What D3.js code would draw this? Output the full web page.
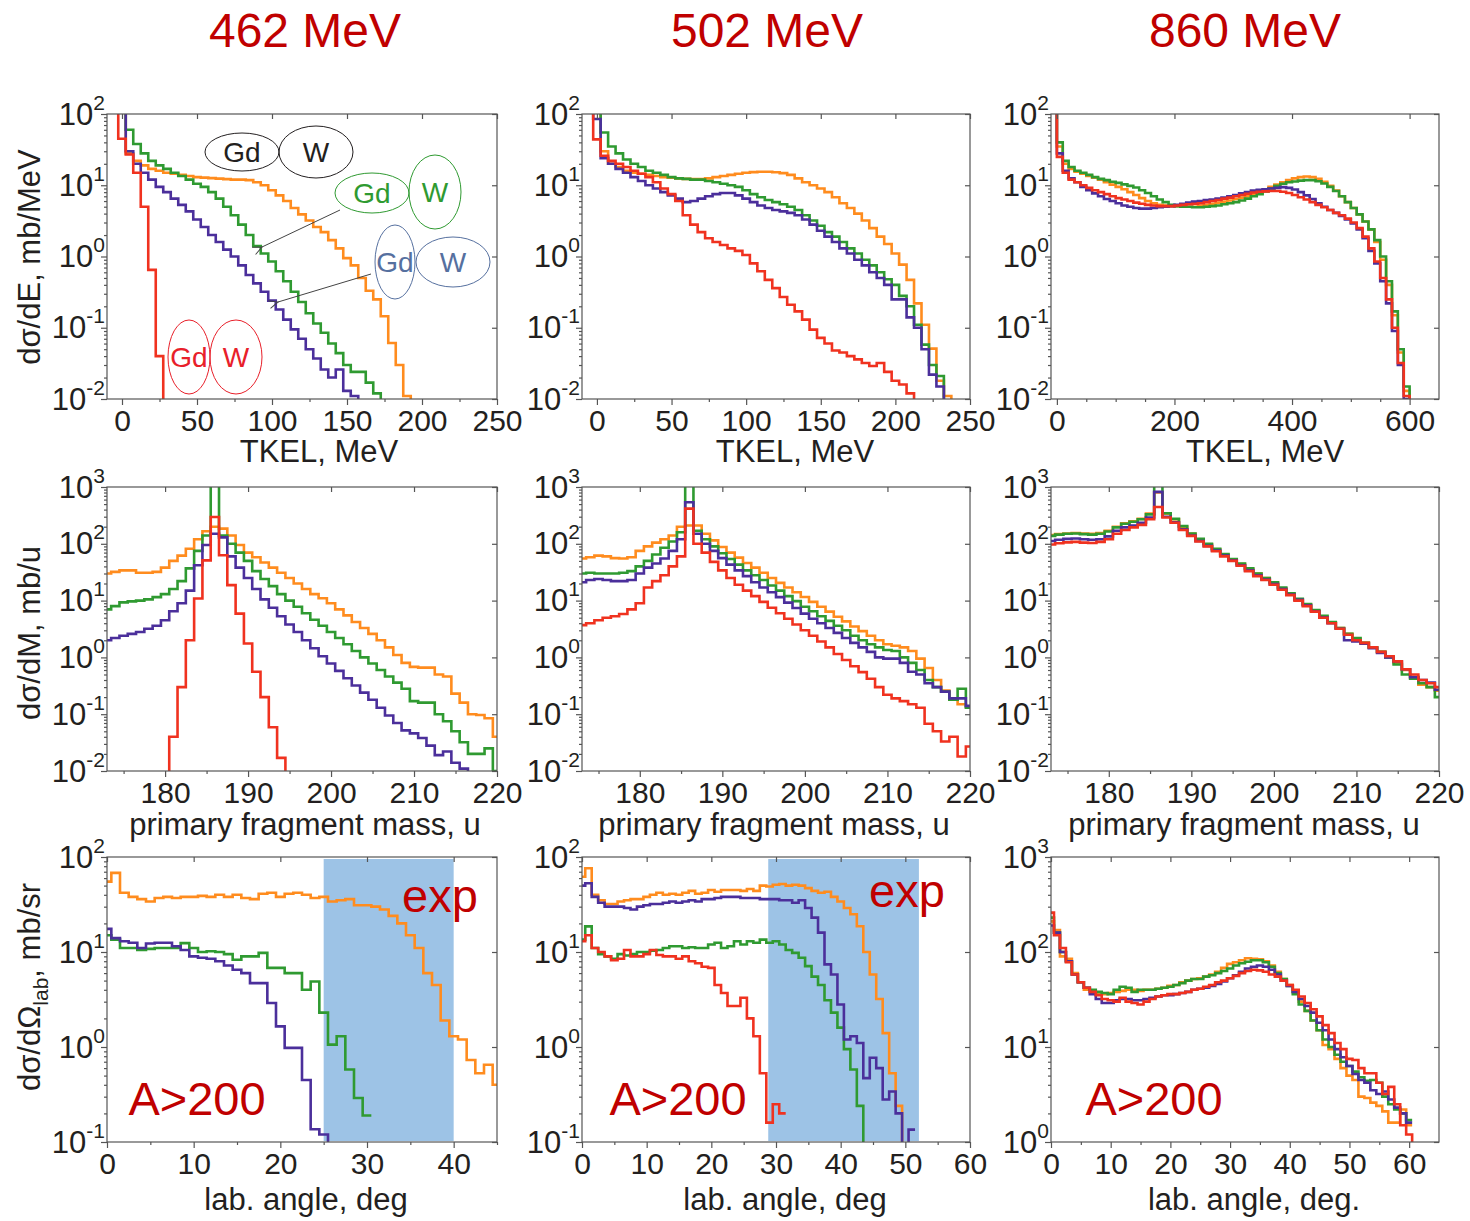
<!DOCTYPE html>
<meta charset="utf-8">
<style>
  body { margin: 0; background: #fff; }
  svg text { font-family: Arial, "Liberation Sans", Helvetica, sans-serif; fill: #231f20; }
  .frame { fill: none; stroke: #555; stroke-width: 1.2px; }
  .axis line { stroke: #555; stroke-width: 1.2px; }
  .axis path { stroke: none; }
  .trace { fill: none; stroke-width: 2.6px; stroke-linejoin: miter; }
  .title { font-size: 48px; fill: #c00000 !important; text-anchor: middle; }
  .note { fill: #c00000 !important; }
</style>
<script src="https://cdn.jsdelivr.net/npm/d3@7"></script>
<svg id="chart" width="1470" height="1221"></svg>
<script>
// ---------- data: row 1, TKEL spectra (bins of 5 MeV, first bin starts at -7.5) ----------
var tkel462_orange = [300,300,28,22,19,17,16,15,14.5,14,13.5,13,12.8,12.6,12.4,12.2,12,12,11.8,11,10,8.5,7.2,6,4.8,3.9,3.2,2.6,2.2,1.7,1.3,0.95,0.75,0.5,0.33,0.25,0.145,0.061,0.03,0.011,0.0001];
var tkel462_green  = [300,300,60,38,28,22,19,17,15,13.5,12,10.5,9.5,8,6.5,5,3.8,2.8,2.0,1.4,1.1,0.85,0.62,0.45,0.32,0.23,0.16,0.115,0.085,0.06,0.044,0.03,0.024,0.024,0.017,0.012,0.0001];
var tkel462_purple = [300,300,30,20,15,12,9.5,8,6.5,5.3,4.3,3.3,2.6,2.0,1.6,1.25,1.0,0.75,0.55,0.42,0.32,0.24,0.18,0.13,0.095,0.07,0.05,0.037,0.026,0.02,0.026,0.013,0.011,0.0001];
var tkel462_red    = [300,45,27,15,5,0.65,0.04,0.0001];

var tkel502_orange = [300,300,30,20,18,16,15,14.5,14,13.5,13,12.8,12.5,12.3,12.2,12.2,12.5,13,13.5,14,14.5,15,15.3,15.5,15.5,15.2,14.8,14,12.5,11,10,9,8,6.8,5.6,4.8,4.0,3.2,2.5,1.9,1.5,1.1,0.77,0.47,0.22,0.11,0.051,0.018,0.011,0.0001];
var tkel502_green  = [300,300,55,35,28,23,20,18,16,15,14,13,12.5,12.3,12,12,11.5,11,10.5,10,9.5,8.5,7.5,6.8,6.2,5.8,5.4,5.0,4.5,3.8,3.2,2.7,2.2,1.9,1.6,1.3,1.1,0.9,0.75,0.6,0.48,0.4,0.28,0.2,0.11,0.058,0.03,0.021,0.0001];
var tkel502_purple = [300,85,24,20,17,15,13,11.5,10,9,8,7.2,6.5,5.8,6.0,6.5,7,7.5,7.8,7.8,7.2,6.5,5.8,5.2,4.8,4.5,4.3,4.1,3.8,3.3,2.8,2.3,1.9,1.6,1.3,1.1,0.9,0.75,0.6,0.5,0.4,0.25,0.25,0.14,0.1,0.05,0.022,0.015,0.0001];
var tkel502_red    = [300,44,26,22,20,18,16,14.5,13,11,9,7.5,6,3.8,2.8,2.2,1.8,1.6,1.45,1.3,1.2,1.05,0.8,0.62,0.47,0.36,0.27,0.21,0.17,0.13,0.094,0.072,0.06,0.048,0.045,0.04,0.036,0.032,0.029,0.032,0.024,0.018,0.016,0.012,0.0001];

// 860 MeV: bins of 10 MeV, first bin starts at -10
var tkel860_orange = [500,35,20,17,15.5,14.5,13.5,12.8,12,11,10.2,9.5,8.8,8.0,7.3,6.6,6.0,5.6,5.3,5.2,5.1,5.1,5.1,5.0,5.0,5.2,5.3,5.5,5.7,5.9,6.1,6.4,6.7,7.0,7.5,8.0,8.7,9.5,10.2,11,11.8,12.5,13,13.3,13,12.3,11.2,9.8,8.4,7.0,5.8,4.8,3.9,3.1,2.4,1.6,0.9,0.4,0.15,0.045,0.013,0.0005];
var tkel860_green  = [500,40,22,18,16,15,14,13,12.3,11.8,11.2,10.8,10.3,9.8,9.3,8.5,7.8,7,6.3,5.8,5.3,5.1,5.0,5.0,4.9,4.9,5.0,5.1,5.2,5.4,5.6,5.8,6.1,6.5,7,7.5,8.2,9,9.8,10.5,11,11.3,11.6,11.8,11.8,11.4,10.6,9.5,8.3,7.0,5.8,4.8,3.9,3.1,2.4,1.7,1.0,0.45,0.17,0.05,0.015,0.0005];
var tkel860_purple = [500,28,16,12.5,11,9.5,8.5,7.7,7,6.4,6,5.6,5.2,5,4.8,4.7,4.7,4.8,4.9,5.0,5.1,5.3,5.5,5.7,5.9,6.0,6.2,6.3,6.5,6.7,7.0,7.3,7.7,8.0,8.4,8.6,8.8,9,9.2,9.4,9.2,8.7,8.0,7.2,6.4,5.6,5.0,4.5,4.1,3.7,3.3,2.9,2.4,1.8,1.2,0.8,0.45,0.22,0.09,0.03,0.01,0.0005];
var tkel860_red    = [500,25,15,12,11,10,9.2,8.5,8,7.5,7,6.6,6.3,6.0,5.7,5.5,5.3,5.2,5.1,5.1,5.1,5.2,5.3,5.4,5.5,5.6,5.8,6,6.2,6.5,6.7,7,7.3,7.6,7.9,8.1,8.2,8.3,8.3,8.1,7.8,7.3,6.8,6.3,5.8,5.3,4.9,4.5,4.1,3.8,3.4,3.0,2.5,1.9,1.3,0.85,0.5,0.25,0.1,0.032,0.011,0.0005];

// ---------- data: row 2, primary fragment mass (1 u bins, centres 173..220) ----------
var mass462_orange = [30,32,34,34,31,31,32,38,50,62,82,120,166,200,185,140,95,70,58,47,38,31,25,20,16,13,11,9,7,5.5,4.2,3.3,2.6,2.0,1.5,1.1,0.8,0.68,0.66,0.66,0.5,0.46,0.23,0.16,0.1,0.097,0.085,0.04];
var mass462_green  = [7,8,9.3,9.7,10,10.5,11.5,13,16,22,37,75,140,5000,140,100,70,50,33,24,18,13,10,7.8,6,4.6,3.6,2.8,2.2,1.7,1.3,1.0,0.78,0.6,0.46,0.36,0.28,0.17,0.16,0.16,0.1,0.075,0.05,0.032,0.02,0.02,0.025,0.01];
var mass462_purple = [2.0,2.2,2.4,2.6,2.8,3.2,3.6,4.5,6.5,9,15,42,95,150,130,60,38,25,16,10.5,7.5,5.3,3.8,2.8,2.0,1.45,1.05,0.78,0.58,0.43,0.32,0.24,0.18,0.13,0.095,0.07,0.052,0.046,0.038,0.028,0.019,0.022,0.014,0.011,0.00001];
var mass462_red    = [0.00001,0.00001,0.00001,0.00001,0.00001,0.00001,0.00001,0.00001,0.04,0.30,2.0,10.9,51,297,63,18.7,5.9,1.76,0.56,0.2,0.059,0.017,0.00001];

var mass502_orange = [55,58,62,60,56,55,58,75,90,105,120,140,200,210,210,150,115,88,70,57,46,38,31,25,20.5,17,14,11.6,9.5,7.8,6.4,5.2,4.3,3.5,2.9,2.4,2.0,1.7,1.6,1.5,1.3,0.95,0.65,0.4,0.26,0.18,0.15,0.135];
var mass502_green  = [30,31,30,30,30,31,33,40,50,65,85,110,160,5000,170,120,90,68,54,43,34,28,23,18.5,15,12,9.8,7.8,6.5,5.3,4.4,3.6,3.0,2.4,2.0,1.7,1.5,1.35,1.3,1.0,0.8,0.6,0.4,0.3,0.25,0.18,0.28,0.13];
var mass502_purple = [21,23,24,23,22,22,23,30,38,45,55,75,120,540,150,100,75,56,43,34,27,21,17,14,11.5,9.2,7.4,5.9,4.8,4.0,3.3,2.7,2.2,1.8,1.5,1.25,1.0,0.95,0.95,0.8,0.56,0.5,0.35,0.3,0.25,0.19,0.19,0.14];
var mass502_red    = [3.7,4.0,4.5,5.0,5.3,5.8,7,9,17,22,28,40,60,416,100,70,48,34,25,19,15,12,9.5,7.5,6,4.8,3.8,3.0,2.4,1.9,1.5,1.15,0.9,0.7,0.55,0.42,0.3,0.22,0.19,0.17,0.15,0.13,0.068,0.05,0.033,0.04,0.018,0.027];

var mass860_orange = [142,148,152,155,152,150,155,170,200,230,250,275,340,800,340,270,200,150,120,98,80,65,53,44,36,30,25,20.5,16.5,13,10.5,8.5,6.6,5.2,4.1,3.3,2.6,2.1,1.8,1.5,1.25,1.05,0.8,0.6,0.45,0.33,0.3,0.26];
var mass860_green  = [138,145,150,152,148,145,150,165,195,225,245,270,330,5000,345,275,205,152,122,100,82,66,54,45,37,30,25,21,17,13.5,10.8,8.7,6.8,5.4,4.2,3.3,2.6,2.2,1.8,1.5,1.25,1.0,0.75,0.5,0.42,0.35,0.3,0.2];
var mass860_purple = [112,118,122,124,120,118,120,135,170,195,210,235,290,820,300,240,180,140,112,92,76,62,51,42,34,28,23.5,19.5,16,12.8,10.3,8.3,6.5,5.1,4.0,3.2,2.0,1.9,1.75,1.45,1.2,1.0,0.85,0.62,0.45,0.4,0.36,0.27];
var mass860_red    = [97,102,106,108,105,103,108,120,150,175,195,215,270,445,290,235,175,138,110,90,74,60,50,41,33,27,23,19,15.5,12.5,10,8,6.4,5,4.0,3.2,2.5,2.0,1.8,1.5,1.25,1.05,0.85,0.62,0.5,0.4,0.35,0.3];

// ---------- data: row 3, lab angle, A>200 (1 deg bins, centres 0,1,2,...) ----------
var ang462_orange = [55,68,42,38,36,34,37,38,37,38,38,39,38,40,38,40,37,36,41,42,38,41,42,40,37,38,34,35,36,31,31,30,28,24,20,15,11,6,4.5,1.9,1.3,1.2,0.73,0.53,0.65,0.4];
var ang462_green  = [15,13.5,11,11,10.5,10.8,11,11,11,12.4,11,10,10.2,10,9.5,8.3,9,9,9.8,6.8,6.8,6.0,6.0,4.0,4.9,2.3,1.06,1.3,0.58,0.29,0.19];
var ang462_purple = [17.5,14,13,12.5,11,12.3,12.5,12.5,11.5,10.5,9,8.7,8.5,8,7.2,6.5,6.0,4.7,4.7,2.9,1.65,0.98,0.98,0.45,0.136,0.12,0.05];

var ang502_orange = [62,76,40,35,32,32,34,35,36,36,38,40,42,40,41,40,42,44,41,42,45,43,45,45,45,44,46,44,50,49,51,52,50,51,50,47,44,42,43,38,34,29,25,18.7,10,5.8,3.2,1.4,0.53,0.24,0.09];
var ang502_green  = [13.5,18.6,11,9.5,9,8.5,9.5,9.2,9.5,10,10,10.3,10.5,11,11.5,11.5,11,11.2,11,11,12,12.5,11,11.5,13,12,13,12.5,13.5,12.5,13,12,10.5,9.8,8.7,7.1,5.5,4.5,3.1,2.3,1.6,0.95,0.58,0.24,0.05];
var ang502_purple = [50,53,38,33,30,30,30,29,28,30,31,32,32,33,34,33,34,35,34,36,36,37,38,38,38,37,37,37,36,36,36,35,35,33,35,29,23,16,7.4,5.8,2.8,1.2,1.3,1.1,0.47,0.77,0.6,0.28,0.34,0.2,0.06,0.135];
var ang502_red    = [13,15,11,10,9,8.2,8.5,10.5,9,9,9.5,10.5,9.3,9,9,8.5,9,8,7.6,7,6.8,4.5,3.7,2.7,2.7,3.3,2.0,1.3,0.53,0.16,0.25,0.2];

var ang860_orange = [210,170,90,85,60,48,40,38,36,36,37,38,39,40,40,39,40,40,41,42,44,45,48,50,52,53,55,58,62,68,75,78,82,86,85,84,80,72,62,52,45,38,30,24,19,15,10.5,9.5,7.5,6,5,4.5,3,2.9,2.6,2.4,2.1,1.6,1.6,2.2,1.5];
var ang860_green  = [230,160,100,80,58,48,42,40,38,37,36,40,43,42,38,40,40,40,41,42,43,45,47,50,52,52,55,57,60,63,67,72,76,79,82,82,78,70,60,52,44,36,28,24,19,15,12,10,8.3,7,6.3,5.5,4.8,4.4,4.5,4.2,3,2.5,2.2,2.0,1.7];
var ang860_purple = [190,160,100,80,58,48,42,36,32,29,29,31,32,32,31,31,32,33,34,35,35,36,37,38,40,41,42,44,46,49,53,57,62,67,70,72,70,65,58,50,44,38,32,27,23,18,15,12,9.5,7.8,6.3,5.2,4.5,4.2,3.5,3.2,3.4,2.8,2.3,2.0,1.6];
var ang860_red    = [260,150,110,78,58,48,42,38,35,32,31,30,33,30,29,28,30,32,34,35,36,36,37,38,40,41,43,45,48,50,53,56,60,63,65,64,62,58,55,50,45,40,34,29,25,21,17,14,11,9.5,7.5,7.3,6,5.3,5.3,4.2,3.2,3.8,2.5,1.5,1.2,0.1];

// tick values
var tkelTicks = [0, 50, 100, 150, 200, 250];
var tkelMinor = [25, 75, 125, 175, 225];
var tkel860Ticks = [0, 200, 400, 600];
var tkel860Minor = [50, 100, 150, 250, 300, 350, 450, 500, 550];
var massTicks = [180, 190, 200, 210, 220];
var massMinor = [175, 185, 195, 205, 215];
var ang45Ticks = [0, 10, 20, 30, 40];
var ang45Minor = [5, 15, 25, 35, 45];
var ang60Ticks = [0, 10, 20, 30, 40, 50, 60];
var ang60Minor = [5, 15, 25, 35, 45, 55];

var energies = ["462 MeV", "502 MeV", "860 MeV"];
var colors = { orange: "#ff8c1e", green: "#2f9a31", purple: "#4b2f9b", red: "#f0321f" };

// ---------- layout ----------
var colLeft = [107, 582, 1051], colW = [390, 388, 388];
var rowTop = [114, 487, 857], rowH = [285, 284, 285];

var svg = d3.select("#chart");

function series(o, g, p, r) {
  return [
    { c: colors.orange, v: o },
    { c: colors.green, v: g },
    { c: colors.purple, v: p },
    { c: colors.red, v: r }
  ];
}

var panels = [
  { row: 0, col: 0, xd: [-10, 250], yd: [1e-2, 1e2], x0: -7.5, w: 5, xt: tkelTicks, xm: tkelMinor, xlab: "TKEL, MeV", xlc: 319,
    s: series(tkel462_orange, tkel462_green, tkel462_purple, tkel462_red) },
  { row: 0, col: 1, xd: [-10, 250], yd: [1e-2, 1e2], x0: -7.5, w: 5, xt: tkelTicks, xm: tkelMinor, xlab: "TKEL, MeV", xlc: 795,
    s: series(tkel502_orange, tkel502_green, tkel502_purple, tkel502_red) },
  { row: 0, col: 2, xd: [-10, 650], yd: [1e-2, 1e2], x0: -10, w: 10, xt: tkel860Ticks, xm: tkel860Minor, xlab: "TKEL, MeV", xlc: 1265, thinOrange: true,
    s: series(tkel860_orange, tkel860_green, tkel860_purple, tkel860_red) },
  { row: 1, col: 0, xd: [173, 220], yd: [1e-2, 1e3], x0: 172.5, w: 1, xt: massTicks, xm: massMinor, xlab: "primary fragment mass, u", xlc: 305,
    s: series(mass462_orange, mass462_green, mass462_purple, mass462_red) },
  { row: 1, col: 1, xd: [173, 220], yd: [1e-2, 1e3], x0: 172.5, w: 1, xt: massTicks, xm: massMinor, xlab: "primary fragment mass, u", xlc: 774,
    s: series(mass502_orange, mass502_green, mass502_purple, mass502_red) },
  { row: 1, col: 2, xd: [173, 220], yd: [1e-2, 1e3], x0: 172.5, w: 1, xt: massTicks, xm: massMinor, xlab: "primary fragment mass, u", xlc: 1244,
    s: series(mass860_orange, mass860_green, mass860_purple, mass860_red) },
  { row: 2, col: 0, xd: [0, 45], yd: [1e-1, 1e2], x0: -0.5, w: 1, xt: ang45Ticks, xm: ang45Minor, xlab: "lab. angle, deg", xlc: 306,
    band: [25, 40], exp: 440, s: series(ang462_orange, ang462_green, ang462_purple, []) },
  { row: 2, col: 1, xd: [0, 60], yd: [1e-1, 1e2], x0: -0.5, w: 1, xt: ang60Ticks, xm: ang60Minor, xlab: "lab. angle, deg", xlc: 785,
    band: [28.8, 52.1], exp: 907, s: series(ang502_orange, ang502_green, ang502_purple, ang502_red) },
  { row: 2, col: 2, xd: [0, 65], yd: [1, 1e3], x0: -0.5, w: 1, xt: ang60Ticks, xm: ang60Minor, xlab: "lab. angle, deg.", xlc: 1254,
    s: series(ang860_orange, ang860_green, ang860_purple, ang860_red) }
];

var aLabelX = [197, 678, 1154];
var xTitleGap = [63, 64, 68];

panels.forEach(function (p, i) {
  var left = colLeft[p.col], top = rowTop[p.row], w = colW[p.col], h = rowH[p.row];
  var x = d3.scaleLinear().domain(p.xd).range([0, w]);
  var y = d3.scaleLog().domain(p.yd).range([h, 0]);
  var g = svg.append("g").attr("transform", "translate(" + left + "," + top + ")");

  g.append("clipPath").attr("id", "clip" + i)
    .append("rect").attr("width", w).attr("height", h);

  if (p.band) {
    g.append("rect")
      .attr("x", x(p.band[0])).attr("width", x(p.band[1]) - x(p.band[0]))
      .attr("y", 2).attr("height", h - 3)
      .attr("fill", "#9dc3e6");
  }

  var line = d3.line().x(function (d) { return x(d[0]); }).y(function (d) { return y(d[1]); });
  var plot = g.append("g").attr("clip-path", "url(#clip" + i + ")");
  p.s.forEach(function (sr, k) {
    if (!sr.v.length) return;
    var pts = [];
    sr.v.forEach(function (v, j) {
      pts.push([p.x0 + j * p.w, v]);
      pts.push([p.x0 + (j + 1) * p.w, v]);
    });
    plot.append("path").attr("class", "trace")
      .attr("stroke", sr.c)
      .attr("stroke-width", (p.thinOrange && k === 0) ? 1.6 : 2.6)
      .attr("d", line(pts));
  });

  // axes
  var e0 = Math.round(Math.log10(p.yd[0])), e1 = Math.round(Math.log10(p.yd[1]));
  var decades = d3.range(e0, e1 + 1).map(function (e) { return Math.pow(10, e); });
  var minors = [];
  decades.slice(0, -1).forEach(function (d) { for (var m = 2; m < 10; m++) minors.push(d * m); });

  g.append("g").attr("class", "axis").attr("transform", "translate(0," + h + ")")
    .call(d3.axisBottom(x).tickValues(p.xt).tickSizeInner(6).tickSizeOuter(0).tickFormat(d3.format("d")))
    .call(function (a) {
      a.selectAll("text").attr("y", 32).attr("dy", 0).attr("font-size", 30).style("fill", "#231f20");
    });
  g.append("g").attr("class", "axis").attr("transform", "translate(0," + h + ")")
    .call(d3.axisBottom(x).tickValues(p.xm).tickSizeInner(3).tickSizeOuter(0).tickFormat(""));
  g.append("g").attr("class", "axis")
    .call(d3.axisBottom(x).tickValues(p.xt).tickSizeInner(5).tickSizeOuter(0).tickFormat(""));

  g.append("g").attr("class", "axis")
    .call(d3.axisLeft(y).tickValues(decades).tickSizeInner(6).tickSizeOuter(0).tickFormat(""))
    .call(function (a) {
      var t = a.selectAll(".tick").append("text")
        .attr("x", -2).attr("y", 10).attr("text-anchor", "end").attr("font-size", 31);
      t.append("tspan").text("10");
      t.append("tspan").attr("dy", -15).attr("font-size", 21)
        .text(function (d) { var e = Math.round(Math.log10(d)); return e < 0 ? "-" + (-e) : String(e); });
    });
  g.append("g").attr("class", "axis")
    .call(d3.axisLeft(y).tickValues(minors).tickSizeInner(3).tickSizeOuter(0).tickFormat(""));
  g.append("g").attr("class", "axis").attr("transform", "translate(" + w + ",0)")
    .call(d3.axisLeft(y).tickValues(decades).tickSizeInner(5).tickSizeOuter(0).tickFormat(""));

  g.append("rect").attr("class", "frame").attr("width", w).attr("height", h);

  svg.append("text")
    .attr("x", p.xlc).attr("y", top + h + xTitleGap[p.row])
    .attr("text-anchor", "middle").attr("font-size", 31)
    .text(p.xlab);

  if (p.exp) {
    svg.append("text").attr("class", "note").attr("x", p.exp).attr("y", top + (p.col === 0 ? 55 : 50))
      .attr("text-anchor", "middle").attr("font-size", 47).text("exp");
  }
  if (p.row === 2) {
    svg.append("text").attr("class", "note").attr("x", aLabelX[p.col]).attr("y", 1115)
      .attr("text-anchor", "middle").attr("font-size", 47).text("A>200");
  }
});

// column titles
energies.forEach(function (e, i) {
  svg.append("text").attr("class", "title").attr("x", [305, 767, 1245][i]).attr("y", 47).text(e);
});

// y-axis titles
function yTitle(cy, parts) {
  var t = svg.append("text")
    .attr("transform", "translate(40," + cy + ") rotate(-90)")
    .attr("text-anchor", "middle").attr("font-size", 31);
  parts.forEach(function (pt) {
    var s = t.append("tspan").text(pt.t);
    if (pt.sub) s.attr("font-size", 21).attr("dy", 8);
    if (pt.back) s.attr("dy", -8);
  });
}
yTitle(257, [{ t: "d\u03c3/dE, mb/MeV" }]);
yTitle(633, [{ t: "d\u03c3/dM, mb/u" }]);
yTitle(987, [{ t: "d\u03c3/d\u03a9" }, { t: "lab", sub: true }, { t: ", mb/sr", back: true }]);

// nucleus labels in the first panel
var nuclei = [
  { c: "#231f20", gd: [242, 152, 37, 19], w: [316, 152, 37, 26] },
  { c: "#2f9a31", gd: [372, 193, 37, 20], w: [435, 192, 26, 37] },
  { c: "#56709f", gd: [395, 262, 20, 37], w: [453, 262, 37, 25] },
  { c: "#e8202a", gd: [189, 357, 21, 37], w: [236, 357, 26, 37] }
];
nuclei.forEach(function (n) {
  [["Gd", n.gd], ["W", n.w]].forEach(function (e) {
    var d = e[1];
    svg.append("ellipse").attr("cx", d[0]).attr("cy", d[1]).attr("rx", d[2]).attr("ry", d[3])
      .attr("fill", "none").attr("stroke", n.c).attr("stroke-width", 1);
    svg.append("text").attr("x", d[0]).attr("y", d[1] + 10).attr("text-anchor", "middle")
      .attr("font-size", 28).style("fill", n.c).text(e[0]);
  });
});

svg.append("defs").append("marker").attr("id", "arr")
  .attr("viewBox", "-1 -5 11 10").attr("refX", 0).attr("refY", 0)
  .attr("markerWidth", 11).attr("markerHeight", 10).attr("markerUnits", "userSpaceOnUse")
  .attr("orient", "auto-start-reverse")
  .append("path").attr("d", "M9,-4L0,0L9,4").attr("fill", "none").attr("stroke", "#444").attr("stroke-width", 1);
[[340, 210, 262, 247], [371, 274, 278, 302]].forEach(function (a) {
  svg.append("line").attr("x1", a[0]).attr("y1", a[1]).attr("x2", a[2]).attr("y2", a[3])
    .attr("stroke", "#444").attr("stroke-width", 1).attr("marker-end", "url(#arr)");
});
</script>
